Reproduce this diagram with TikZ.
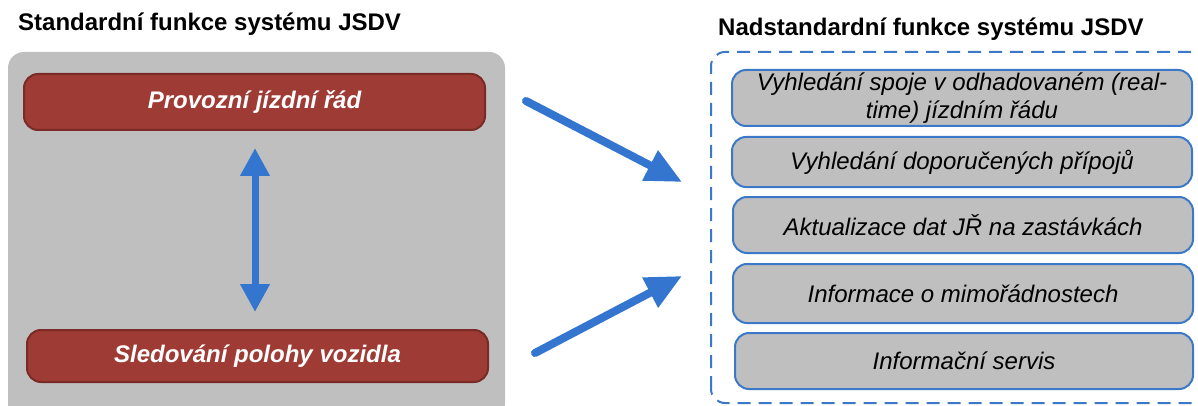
\documentclass[tikz,border=0pt]{standalone}
\usepackage{fontspec}
\setmainfont{Liberation Sans}
\usetikzlibrary{arrows.meta}
\definecolor{greybg}{HTML}{BFBFBF}
\definecolor{redfill}{HTML}{9E3B35}
\definecolor{redline}{HTML}{7A2B27}
\definecolor{bluec}{HTML}{3375CF}
\definecolor{blueline}{HTML}{3B78C8}
\tikzset{
  title/.style={anchor=base west, inner sep=0pt, font=\fontsize{24}{28}\selectfont\bfseries},
  redbox/.style={draw=redline, line width=2pt, fill=redfill, rounded corners=14pt,
    inner sep=0pt, text=white, font=\fontsize{24}{28}\selectfont\bfseries\itshape},
  greybox/.style={draw=blueline, line width=2pt, fill=greybg, rounded corners=14pt,
    inner sep=0pt, align=center, font=\fontsize{24}{28.5}\selectfont\itshape},
  bigarrow/.style={draw=bluec, line width=8pt, line cap=round,
    -{Triangle[length=36pt,width=32pt]}},
  dblarrow/.style={draw=bluec, line width=7pt,
    {Triangle[length=28pt,width=28pt]}-{Triangle[length=28pt,width=28pt]}}
}
\begin{document}
\begin{tikzpicture}[x=1pt,y=-1pt]
\useasboundingbox (0,0) rectangle (1198,406);
% left panel
\node[title] (lt) at (18,31) {Standardní funkce systému JSDV};
\fill[greybg, rounded corners=16pt] (8,52) rectangle (505,420);
\node[redbox, minimum width=461pt, minimum height=56pt] (pjr) at (254.5,102) {Provozní jízdní řád};
\node[redbox, minimum width=461pt, minimum height=52pt] (spv) at (257.5,356) {Sledování polohy vozidla};
\coordinate (d1) at (255,148);
\coordinate (d2) at (255,312);
\draw[dblarrow] (d1) -- (d2);
% right panel
\node[title] (rt) at (718,36) {Nadstandardní funkce systému JSDV};
\draw[blueline, line width=2pt, dash pattern=on 13pt off 8pt, rounded corners=14pt] (711,403) -- (711,52) -- (1215,52) -- (1215,403) -- cycle;
\node[greybox, minimum width=460pt, minimum height=56pt] (b1) at (962,98) {Vyhledání spoje v odhadovaném (real-\\time) jízdním řádu};
\node[greybox, minimum width=460pt, minimum height=50pt] (b2) at (962,162) {Vyhledání doporučených přípojů};
\node[greybox, minimum width=460pt, minimum height=56pt] (b3) at (963,225) {Aktualizace dat JŘ na zastávkách};
\node[greybox, minimum width=460pt, minimum height=59pt] (b4) at (963,293.5) {Informace o mimořádnostech};
\node[greybox, minimum width=458pt, minimum height=56pt] (b5) at (964,361) {Informační servis};
% arrows
\coordinate (a1s) at (526,101);
\coordinate (a1e) at (682,182);
\coordinate (a2s) at (535,353);
\coordinate (a2e) at (682,276);
\draw[bigarrow] (a1s) -- (a1e);
\draw[bigarrow] (a2s) -- (a2e);
\end{tikzpicture}
\end{document}
